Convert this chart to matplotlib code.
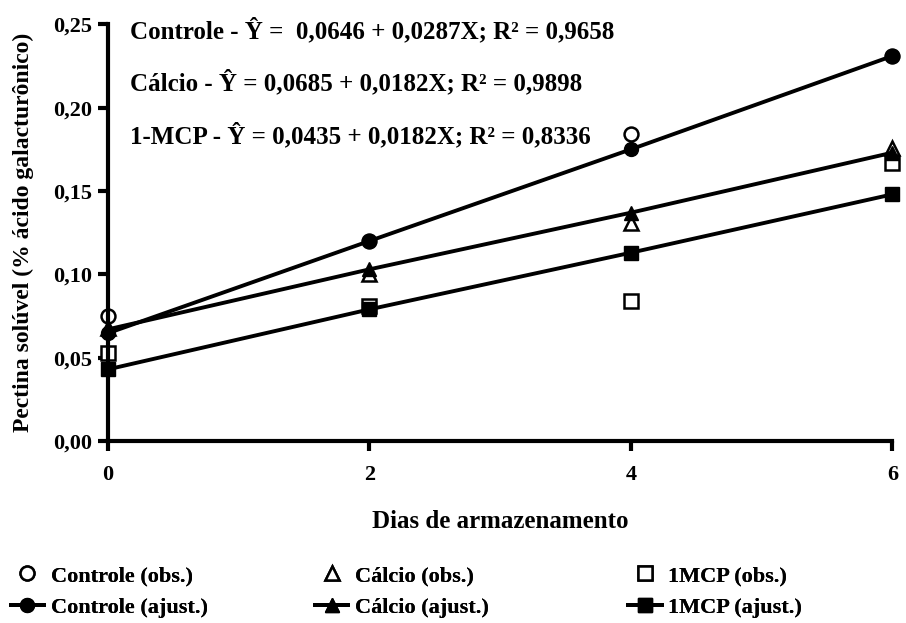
import matplotlib.pyplot as plt
from matplotlib.ticker import FuncFormatter

# dias de armazenamento
dias = [0, 2, 4, 6]

controle_obs = [0.075, 0.120, 0.184, 0.231]
calcio_obs = [0.068, 0.100, 0.131, 0.176]
mcp_obs = [0.053, 0.081, 0.084, 0.167]

# valores ajustados
controle_aj = [0.0647, 0.120, 0.175, 0.231]
calcio_aj = [0.067, 0.103, 0.137, 0.173]
mcp_aj = [0.043, 0.079, 0.113, 0.148]

equacoes = [
    "Controle - Ŷ =  0,0646 + 0,0287X; R² = 0,9658",
    "Cálcio - Ŷ = 0,0685 + 0,0182X; R² = 0,9898",
    "1-MCP - Ŷ = 0,0435 + 0,0182X; R² = 0,8336",
]

plt.rcParams['font.family'] = ['Liberation Serif', 'DejaVu Serif']
plt.rcParams['font.weight'] = 'bold'

fig = plt.figure(figsize=(9.06, 6.23), dpi=100)
ax = fig.add_axes([0.119, 0.292, 0.866, 0.669])

ms = 10
lw = 2.8
# observados primeiro, ajustados por cima
o1, = ax.plot(dias, controle_obs, 'o', mfc='white', mec='black', mew=1.8, ms=ms, ls='none', clip_on=False)
o2, = ax.plot(dias, calcio_obs, '^', mfc='white', mec='black', mew=1.8, ms=ms, ls='none', clip_on=False)
o3, = ax.plot(dias, mcp_obs, 's', mfc='white', mec='black', mew=1.8, ms=ms, ls='none', clip_on=False)
a1, = ax.plot(dias, controle_aj, '-o', color='black', lw=lw, ms=ms, clip_on=False)
a2, = ax.plot(dias, calcio_aj, '-^', color='black', lw=lw, ms=ms, clip_on=False)
a3, = ax.plot(dias, mcp_aj, '-s', color='black', lw=lw, ms=ms, clip_on=False)

ax.set_xlim(0, 6)
ax.set_ylim(0, 0.25)
ax.set_xticks([0, 2, 4, 6])
ax.set_yticks([0, 0.05, 0.10, 0.15, 0.20, 0.25])
ax.yaxis.set_major_formatter(FuncFormatter(lambda v, p: f"{v:.2f}".replace('.', ',')))
ax.spines['top'].set_visible(False)
ax.spines['right'].set_visible(False)
ax.spines['left'].set_linewidth(3)
ax.spines['bottom'].set_linewidth(3)
ax.tick_params(direction='out', width=3, length=7, labelsize=16)
ax.tick_params(axis='x', pad=10)
ax.tick_params(axis='y', pad=4)

ax.set_xlabel("Dias de armazenamento", fontsize=18, fontweight='bold', labelpad=18)
ax.set_ylabel("Pectina solúvel (% ácido galacturônico)", fontsize=17, fontweight='bold', labelpad=14)

for i, eq in enumerate(equacoes):
    ax.text(0.028, 0.986 - i * 0.126, eq, transform=ax.transAxes, fontsize=18,
            fontweight='bold', va='center', ha='left')

colunas = [
    ([o1, a1], ['Controle (obs.)', 'Controle (ajust.)'], -0.008),
    ([o2, a2], ['Cálcio (obs.)', 'Cálcio (ajust.)'], 0.328),
    ([o3, a3], ['1MCP (obs.)', '1MCP (ajust.)'], 0.674),
]
for hs, ls, x0 in colunas:
    leg = fig.legend(hs, ls, loc='lower left', bbox_to_anchor=(x0, -0.02),
                     frameon=False, fontsize=16, handlelength=1.5,
                     handletextpad=0.3, labelspacing=0.5, borderpad=0.3)
    fig.add_artist(leg)

fig.savefig("out.png", dpi=100)
